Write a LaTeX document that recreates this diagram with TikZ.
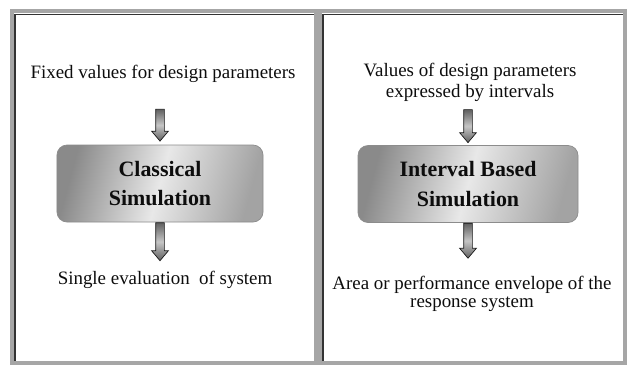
\documentclass[tikz,border=0pt]{standalone}
\usepackage{fontspec}
\setmainfont{Liberation Serif}
\usetikzlibrary{shapes.arrows,calc}
\begin{document}
\begin{tikzpicture}[x=1bp,y=-1bp,
  panelband/.style={draw=gray!70, line width=4bp},
  paneldark/.style={draw=gray!40!black, line width=1.6bp},
  simbox/.style={draw=gray!90, line width=0.7bp, rounded corners=10bp,
    minimum height=77bp, inner sep=0pt,
    left color=gray!92, right color=gray!72, middle color=gray!18, shading angle=75,
    font=\fontsize{22}{30}\selectfont\bfseries, align=center, text=gray!10!black},
  lbl/.style={font=\fontsize{19}{21}\selectfont, inner sep=0pt, anchor=base, text=gray!10!black},
  blockarr/.style={single arrow, draw=gray!20!black, line width=0.7bp, rotate=-90,
    minimum height=#1, inner xsep=0pt, inner ysep=4bp, single arrow head extend=4bp,
    single arrow tip angle=80, top color=gray!75!black, bottom color=gray!75!black,
    middle color=gray!45}
]
\useasboundingbox (0,0) rectangle (629,367);
\fill[white] (0,0) rectangle (629,367);
% panels
\draw[panelband] (12,11) rectangle (316,363);
\draw[panelband] (320,11) rectangle (625,363);
\draw[paneldark] (15,361) -- (15,14.5) -- (314,14.5);
\draw[paneldark] (323,361) -- (323,14.5) -- (623,14.5);
% left panel
\node[lbl] (fx) at (163,78) {Fixed values for design parameters};
\node[simbox, minimum width=206bp] (b1) at (160,183.5) {Classical\\Simulation};
\node[lbl] (se) at (165,284) {Single evaluation\ \ of system};
\node[blockarr=32bp, anchor=tip] (a1) at ($(b1.north)+(0,-3)$) {};
\node[blockarr=38bp, anchor=tail] (a2) at (b1.south) {};
% right panel
\node[lbl] (v1) at (470,76) {Values of design parameters};
\node[lbl] (v2) at (470,97) {expressed by intervals};
\node[simbox, minimum width=220bp] (b2) at (468,184) {Interval Based\\Simulation};
\node[lbl] (ar1) at (472,289) {Area or performance envelope of the};
\node[lbl] (ar2) at (472,307) {response system};
\node[blockarr=33bp, anchor=tip] (a3) at ($(b2.north)+(0,-2)$) {};
\node[blockarr=35bp, anchor=tail] (a4) at (b2.south) {};
\end{tikzpicture}
\end{document}
